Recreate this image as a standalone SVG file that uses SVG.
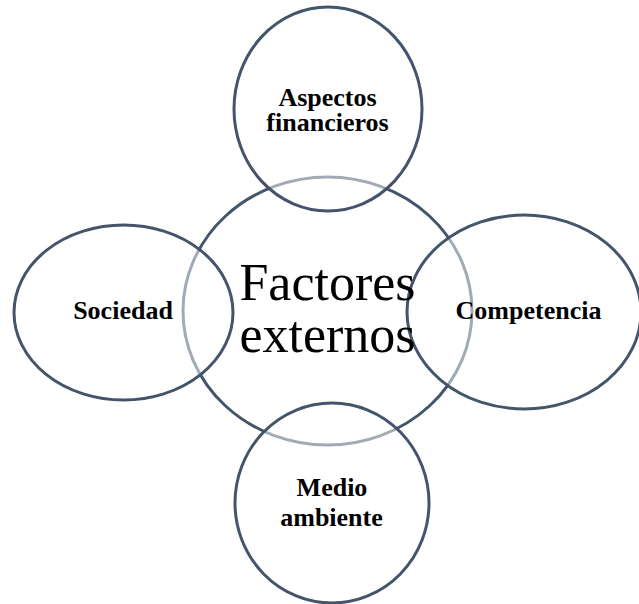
<svg xmlns="http://www.w3.org/2000/svg" width="639" height="604" viewBox="0 0 639 604">
<style>
.c{fill:#ffffff;stroke:#44546a;stroke-width:3}
.s{fill:#ffffff;fill-opacity:0.5;stroke:#44546a;stroke-width:3}
.t{font-family:"Liberation Serif","Times New Roman",serif;font-weight:bold;font-size:26px;fill:#000;text-anchor:middle}
.big{font-family:"Liberation Serif","Times New Roman",serif;font-size:52px;fill:#000;text-anchor:middle}
</style>
<rect width="639" height="604" fill="#ffffff"/>
<g id="center"><ellipse class="c" cx="327.5" cy="311" rx="144.5" ry="134"/></g>
<g id="top"><ellipse class="s" cx="328" cy="109" rx="94" ry="102"/></g>
<g id="bottom"><ellipse class="s" cx="332" cy="503" rx="97" ry="100"/></g>
<g id="left"><ellipse class="s" cx="123.5" cy="312.5" rx="109.5" ry="87.5"/></g>
<g id="right"><ellipse class="s" cx="524" cy="312" rx="117" ry="97"/></g>
<g id="labels">
<text class="big" x="327.5" y="300">Factores</text>
<text class="big" x="327.5" y="352">externos</text>
<text class="t" x="327.5" y="106">Aspectos</text>
<text class="t" x="327.5" y="131">financieros</text>
<text class="t" x="123" y="319">Sociedad</text>
<text class="t" x="528.5" y="319">Competencia</text>
<text class="t" x="332" y="496">Medio</text>
<text class="t" x="331.5" y="526">ambiente</text>
</g>
</svg>
